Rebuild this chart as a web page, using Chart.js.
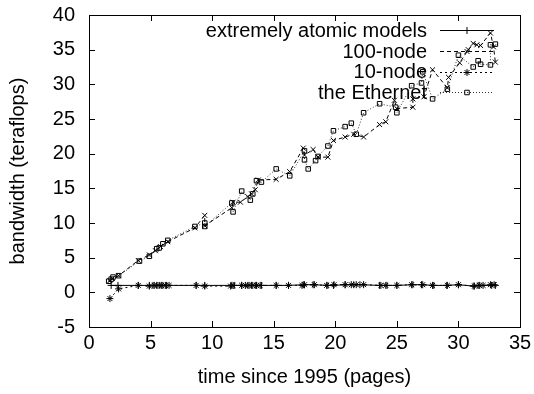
<!DOCTYPE html>
<html>
<head>
<meta charset="utf-8">
<script src="https://cdn.jsdelivr.net/npm/chart.js@4.4.0/dist/chart.umd.min.js"></script>
<style>
  html, body { margin: 0; padding: 0; background: #fff; }
  #wrap { width: 534px; height: 394px; }
</style>
</head>
<body>
<div id="wrap"><canvas id="chart" width="534" height="394"></canvas></div>
<script>
const FONT = "'Liberation Sans', Arial, Helvetica, sans-serif";
const FSIZE = 20;

const seriesNames = ['extremely atomic models', '100-node', '10-node', 'the Ethernet'];
const xTicks = [0, 5, 10, 15, 20, 25, 30, 35];
const yTicks = [-5, 0, 5, 10, 15, 20, 25, 30, 35, 40];

// extremely atomic models (+, solid)
const atomicX = [1.8, 2.35, 4.0, 4.9, 5.2, 5.5, 5.75, 6.0, 6.3, 8.7, 9.4, 11.55, 11.8, 12.4, 12.9, 13.2, 13.5, 14.0, 15.2, 16.2, 17.4, 18.2, 19.4, 19.85, 20.8, 21.5, 22.0, 23.6, 24.2, 25.0, 26.3, 27.0, 28.0, 29.05, 30.0, 31.2, 31.6, 32.7, 33.0];
const atomicY = [1.0, 1.0, 1.0, 1.0, 1.0, 1.0, 1.0, 1.0, 1.0, 1.0, 1.0, 1.0, 1.0, 1.0, 1.0, 1.0, 1.0, 1.0, 1.0, 1.0, 1.1, 1.1, 1.0, 1.0, 1.1, 1.1, 1.1, 1.0, 1.0, 1.0, 1.1, 1.1, 1.0, 1.0, 1.1, 0.9, 1.0, 1.0, 1.0];

// 100-node (x, dashed)
const node100X = [1.7, 1.9, 2.4, 4.0, 4.9, 5.4, 5.8, 6.4, 8.6, 9.4, 9.4, 11.6, 11.7, 12.3, 12.9, 13.2, 13.5, 13.75, 15.2, 16.3, 17.4, 17.5, 18.2, 18.6, 19.4, 19.85, 20.8, 21.5, 22.3, 23.6, 24.1, 24.8, 25.0, 26.3, 26.3, 27.2, 27.9, 29.1, 29.2, 30.1, 30.8, 31.2, 31.5, 31.8, 32.6, 32.85, 33.0];
const node100Y = [1.7, 2.0, 2.4, 4.6, 5.4, 6.0, 6.6, 7.3, 9.3, 11.1, 9.6, 12.2, 13.0, 13.0, 13.8, 14.2, 14.8, 16.2, 16.3, 17.4, 20.8, 19.8, 20.6, 19.5, 19.5, 21.9, 22.4, 22.8, 22.4, 24.2, 24.6, 27.7, 26.5, 26.7, 27.9, 28.2, 32.1, 29.5, 31.0, 33.1, 35.0, 35.9, 35.7, 35.6, 37.4, 35.4, 33.2];

// 10-node (*, short dashes)
const node10X = [1.7, 2.4, 4.0, 4.9, 5.3, 5.6, 5.9, 6.2, 6.5, 8.7, 9.4, 11.5, 11.7, 12.4, 12.7, 13.0, 13.3, 13.6, 13.9, 15.2, 16.2, 17.3, 17.5, 18.3, 19.3, 19.9, 20.8, 21.3, 21.7, 22.3, 23.7, 24.1, 25.0, 26.2, 27.1, 27.9, 29.1, 30.0, 31.3, 31.7, 32.0, 32.6, 32.9];
const node10Y = [-0.9, 0.5, 1.0, 0.9, 1.0, 1.0, 1.0, 1.0, 1.0, 1.0, 0.9, 0.9, 1.0, 1.0, 1.0, 1.0, 1.0, 1.0, 1.0, 1.0, 1.0, 1.0, 1.1, 1.1, 1.0, 1.1, 1.1, 1.1, 1.1, 1.1, 1.0, 1.0, 1.0, 1.1, 1.1, 1.0, 1.0, 1.1, 0.9, 1.0, 1.0, 1.1, 1.1];

// the Ethernet (square, dotted)
const etherX = [1.6, 1.8, 1.95, 2.4, 4.1, 4.9, 5.5, 5.7, 6.0, 6.4, 8.6, 9.4, 9.4, 11.6, 11.7, 12.4, 13.1, 13.3, 13.6, 14.0, 15.2, 16.3, 17.5, 17.5, 17.8, 18.4, 18.6, 19.4, 19.85, 20.8, 21.3, 21.7, 22.3, 23.6, 24.9, 25.0, 26.2, 27.0, 27.1, 27.9, 29.1, 30.0, 31.2, 31.6, 31.8, 32.6, 32.6, 33.0];
const etherY = [1.6, 1.9, 2.2, 2.4, 4.5, 5.2, 6.3, 6.4, 7.0, 7.5, 9.5, 10.0, 9.5, 12.9, 11.6, 14.6, 13.3, 14.2, 16.1, 15.9, 17.8, 16.8, 20.4, 19.1, 17.8, 19.0, 19.6, 21.1, 23.3, 23.9, 24.4, 22.8, 25.9, 27.2, 26.7, 25.9, 29.8, 30.2, 31.8, 27.9, 29.3, 34.2, 32.5, 33.4, 32.9, 32.8, 35.7, 35.8];

function pairs(xs, ys) { return xs.map((x, i) => ({ x, y: ys[i] })); }

const styles = [
  { pointStyle: 'cross', dash: [], color: '#000' },
  { pointStyle: 'crossRot', dash: [4, 3], color: '#000' },
  { pointStyle: 'star', dash: [2, 3], color: '#000' },
  { pointStyle: 'rect', dash: [1, 2], color: '#333' },
];
const allData = [pairs(atomicX, atomicY), pairs(node100X, node100Y), pairs(node10X, node10Y), pairs(etherX, etherY)];

const datasets = seriesNames.map((name, i) => ({
  label: name,
  data: allData[i],
  showLine: true,
  borderColor: styles[i].color,
  borderWidth: 1,
  borderDash: styles[i].dash,
  pointStyle: styles[i].pointStyle,
  pointRadius: i === 3 ? 3.2 : 3.5,
  pointBorderColor: '#000',
  pointBorderWidth: 1,
  pointBackgroundColor: 'rgba(0,0,0,0)',
  fill: false,
  tension: 0,
}));

// gnuplot style frame, inward ticks on all sides, and key in the top right
const gnuplotFrame = {
  id: 'gnuplotFrame',
  beforeDatasetsDraw(chart) {
    const { ctx } = chart;
    ctx.save();
    ctx.font = FSIZE + 'px ' + FONT;
    ctx.textAlign = 'right';
    ctx.textBaseline = 'middle';
    const rowY = [30, 51, 71.5, 92];
    const lineL = 440, lineR = 494;
    chart.data.datasets.forEach((ds, i) => {
      const yy = rowY[i];
      ctx.fillStyle = '#000';
      ctx.fillText(ds.label, 427, yy + 1);
      ctx.beginPath();
      ctx.setLineDash(ds.borderDash);
      ctx.strokeStyle = ds.borderColor;
      ctx.lineWidth = 1;
      ctx.moveTo(lineL, Math.round(yy) + 0.5);
      ctx.lineTo(lineR, Math.round(yy) + 0.5);
      ctx.stroke();
      ctx.setLineDash([]);
      ctx.strokeStyle = '#000';
      ctx.fillStyle = 'rgba(0,0,0,0)';
      Chart.helpers.drawPoint(ctx, { pointStyle: ds.pointStyle, radius: ds.pointRadius, rotation: 0, borderWidth: 1 }, (lineL + lineR) / 2, Math.round(yy) + 0.5);
    });
    ctx.restore();
  },
  afterDraw(chart) {
    const { ctx, chartArea: a, scales: { x, y } } = chart;
    ctx.save();
    ctx.strokeStyle = '#000';
    ctx.lineWidth = 1;
    ctx.setLineDash([]);
    ctx.strokeRect(Math.round(a.left) + 0.5, Math.round(a.top) + 0.5, Math.round(a.right - a.left), Math.round(a.bottom - a.top));
    ctx.beginPath();
    xTicks.forEach(v => {
      const px = Math.round(x.getPixelForValue(v)) + 0.5;
      ctx.moveTo(px, a.bottom); ctx.lineTo(px, a.bottom - 6);
      ctx.moveTo(px, a.top); ctx.lineTo(px, a.top + 6);
    });
    yTicks.forEach(v => {
      const py = Math.round(y.getPixelForValue(v)) + 0.5;
      ctx.moveTo(a.left, py); ctx.lineTo(a.left + 6, py);
      ctx.moveTo(a.right, py); ctx.lineTo(a.right - 6, py);
    });
    ctx.stroke();
    ctx.restore();
  }
};

new Chart(document.getElementById('chart'), {
  type: 'scatter',
  data: { datasets },
  options: {
    responsive: false,
    animation: false,
    devicePixelRatio: 1,
    layout: { padding: { top: 15, right: 14, left: 0, bottom: 0 } },
    plugins: { legend: { display: false }, tooltip: { enabled: false } },
    scales: {
      x: {
        type: 'linear', min: 0, max: 35,
        afterFit(s) { s.height = 67; s.paddingLeft = 0; s.paddingRight = 0; },
        afterBuildTicks(s) { s.ticks = xTicks.map(v => ({ value: v })); },
        grid: { display: false, drawTicks: false },
        border: { display: false },
        ticks: { color: '#000', font: { family: FONT, size: FSIZE }, padding: 4, maxRotation: 0 },
        title: { display: true, text: 'time since 1995 (pages)', color: '#000', font: { family: FONT, size: FSIZE }, padding: { top: 0, bottom: 5 } }
      },
      y: {
        type: 'linear', min: -5, max: 40,
        afterFit(s) { s.width = 89; s.paddingTop = 0; s.paddingBottom = 0; },
        afterBuildTicks(s) { s.ticks = yTicks.map(v => ({ value: v })); },
        grid: { display: false, drawTicks: false },
        border: { display: false },
        ticks: { color: '#000', font: { family: FONT, size: FSIZE }, padding: 14 },
        title: { display: true, text: 'bandwidth (teraflops)', color: '#000', font: { family: FONT, size: FSIZE }, padding: { top: 6, bottom: 0 } }
      }
    }
  },
  plugins: [gnuplotFrame]
});
</script>
</body>
</html>
